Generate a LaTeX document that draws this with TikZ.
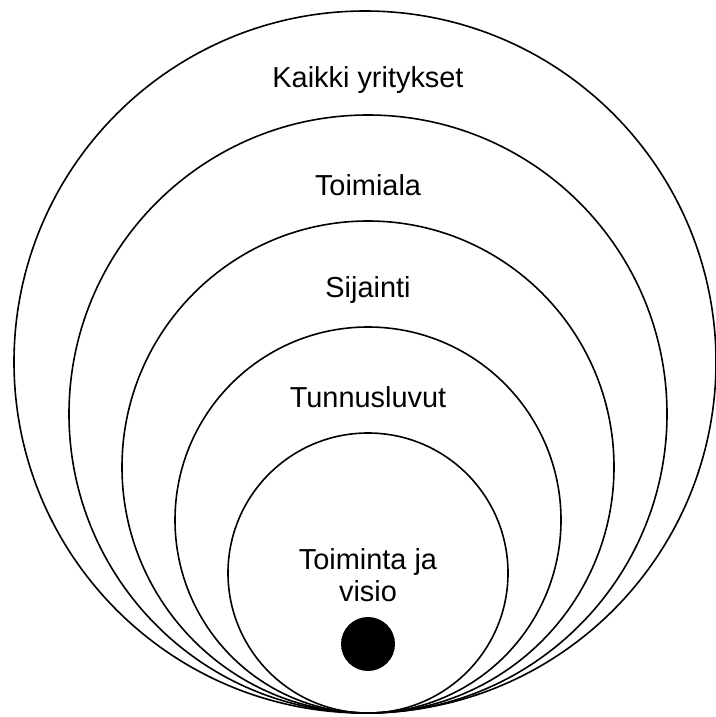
\documentclass[tikz,border=0pt]{standalone}
\usepackage{fontspec}
\setmainfont{Liberation Sans}
\begin{document}
\begin{tikzpicture}[x=1pt,y=-1pt,
  ring/.style={draw=black,line width=1.6pt,circle,inner sep=0pt,minimum size=#1},
  lbl/.style={font=\fontsize{28.9}{32}\selectfont,inner sep=0pt,align=center}]
\useasboundingbox (0,0) rectangle (715,717);
\node[ring=702pt] (c1) at (365,362) {};
\node[ring=598pt] (c2) at (368,414) {};
\node[ring=492pt] (c3) at (368,467) {};
\node[ring=386pt] (c4) at (368,520) {};
\node[ring=280pt] (c5) at (368,573) {};
\node[circle,fill=black,inner sep=0pt,minimum size=54pt] (dot) at (368,644) {};
\node[lbl] (t1) at (368,80) {Kaikki yritykset};
\node[lbl] (t2) at (368,185) {Toimiala};
\node[lbl] (t3) at (368,290) {Sijainti};
\node[lbl] (t4) at (368,397) {Tunnusluvut};
\node[lbl] (t5) at (368,575) {Toiminta ja\\visio};
\end{tikzpicture}
\end{document}
